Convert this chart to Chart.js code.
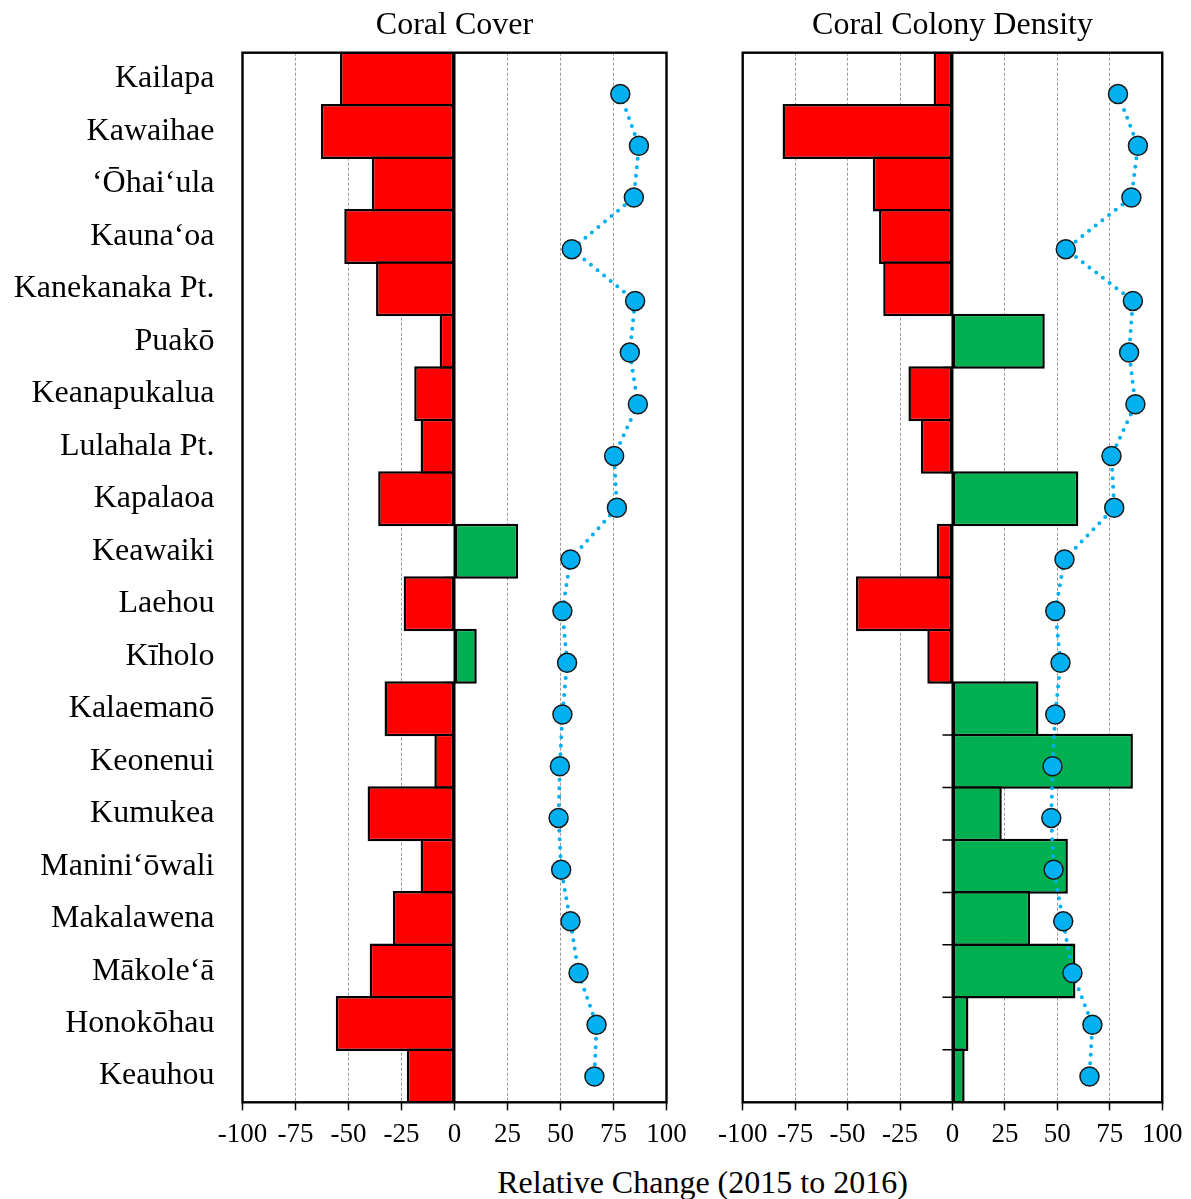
<!DOCTYPE html>
<html>
<head>
<meta charset="utf-8">
<script src="https://cdn.jsdelivr.net/npm/chart.js@4.4.1/dist/chart.umd.min.js"></script>
<style>
  html, body { margin: 0; padding: 0; background: #ffffff; }
  body { width: 1191px; height: 1199px; position: relative; overflow: hidden; }
  #wrapL { position: absolute; left: 0; top: 0; width: 700px; height: 1160px; }
  #wrapR { position: absolute; left: 700px; top: 0; width: 491px; height: 1160px; }
  #xTitle { position: absolute; left: 402.5px; top: 1162px; width: 600px; text-align: center;
            font-family: 'Liberation Serif', 'Times New Roman', serif; font-size: 32px; line-height: 40px; color: #000; }
</style>
</head>
<body>
<div id="wrapL"><canvas id="cL" width="700" height="1160"></canvas></div>
<div id="wrapR"><canvas id="cR" width="491" height="1160"></canvas></div>
<div id="xTitle">Relative Change (2015 to 2016)</div>
<script>
// ---------------- data ----------------
const sites = ["Kailapa", "Kawaihae", "\u2018\u014Chai\u2018ula", "Kauna\u2018oa", "Kanekanaka Pt.", "Puak\u014D",
  "Keanapukalua", "Lulahala Pt.", "Kapalaoa", "Keawaiki", "Laehou", "K\u012Bholo", "Kalaeman\u014D",
  "Keonenui", "Kumukea", "Manini\u2018\u014Dwali", "Makalawena", "M\u0101kole\u2018\u0101", "Honok\u014Dhau", "Keauhou"];

const coralCover = [-54, -63, -39, -52, -37, -7, -19, -16, -36, 30, -24, 10.5, -33, -9.5, -41, -16, -29, -40, -56, -22.5];
const coverDots = [78.2, 87, 84.6, 55.3, 85.2, 82.7, 86.5, 75.3, 76.6, 54.7, 50.9, 53.1, 50.9, 49.7, 49.1, 50.3, 54.7, 58.5, 67, 66];

const colonyDensity = [-9, -81, -38, -35, -33, 44, -21, -15, 60, -7.5, -46, -12, 41, 86, 23.5, 55, 37, 58.6, 7.6, 5.8];
const densityDots = [78.9, 88.4, 85.3, 54, 86, 84.2, 87.2, 75.8, 77.1, 53.4, 49, 51.5, 49, 47.7, 47.1, 48.2, 52.8, 57.2, 66.7, 65.3];

const xTickValues = [-100, -75, -50, -25, 0, 25, 50, 75, 100];
const panelTitles = ["Coral Cover", "Coral Colony Density"];

// ---------------- styling ----------------
const FONT = "'Liberation Serif', 'Times New Roman', serif";
Chart.defaults.font.family = FONT;
Chart.defaults.color = '#000';

const RED = '#FF0000', GREEN = '#00B050', BLUE = '#00B0F0';

const frameAndZero = {
  id: 'frameAndZero',
  beforeDatasetsDraw(chart) {
    const { ctx, chartArea, scales } = chart;
    const x0 = scales.x.getPixelForValue(0);
    ctx.save();
    ctx.strokeStyle = '#000';
    ctx.lineWidth = 2;
    ctx.beginPath();
    ctx.moveTo(x0, chartArea.top);
    ctx.lineTo(x0, chartArea.bottom);
    ctx.stroke();
    // tick marks of the vertical axis (at category boundaries), pointing left
    ctx.lineWidth = 1.5;
    ctx.beginPath();
    const ys = scales.y;
    for (let i = 1; i < sites.length; i++) {
      const yb = (ys.getPixelForValue(i - 1) + ys.getPixelForValue(i)) / 2;
      ctx.moveTo(x0 - 10, yb);
      ctx.lineTo(x0, yb);
    }
    ctx.stroke();
    ctx.restore();
  },
  afterDraw(chart) {
    const { ctx, chartArea } = chart;
    ctx.save();
    ctx.strokeStyle = '#000';
    ctx.lineWidth = 2.4;
    ctx.strokeRect(chartArea.left, chartArea.top, chartArea.right - chartArea.left, chartArea.bottom - chartArea.top);
    ctx.restore();
  }
};

function makeChart(canvasId, title, barValues, dotValues, showLabels, yWidth, padRight) {
  return new Chart(document.getElementById(canvasId), {
    type: 'bar',
    data: {
      labels: sites,
      datasets: [
        {
          type: 'scatter',
          data: dotValues.map((v, i) => ({ x: v, y: i })),
          xAxisID: 'x',
          yAxisID: 'y2',
          showLine: true,
          borderColor: BLUE,
          borderWidth: 4,
          borderDash: [0, 8.5],
          borderCapStyle: 'round',
          pointRadius: 9.5,
          pointBackgroundColor: BLUE,
          pointBorderColor: '#1a1a1a',
          pointBorderWidth: 1.5,
          order: 0
        },
        {
          type: 'bar',
          data: barValues,
          xAxisID: 'x',
          yAxisID: 'y',
          grouped: false,
          backgroundColor: ctx => (ctx.raw < 0 ? RED : GREEN),
          borderColor: '#000',
          borderWidth: 2.5,
          borderSkipped: false,
          categoryPercentage: 1,
          barPercentage: 1.048,
          order: 1
        }
      ]
    },
    options: {
      indexAxis: 'y',
      responsive: false,
      animation: false,
      events: [],
      layout: { padding: { left: 0, right: padRight, top: 0, bottom: 0 } },
      plugins: {
        legend: { display: false },
        tooltip: { enabled: false },
        title: {
          display: true,
          text: title,
          fullSize: false,
          color: '#000',
          font: { family: FONT, size: 32, weight: 'normal', lineHeight: 1.2 },
          padding: { top: 6, bottom: 8.3 }
        }
      },
      scales: {
        x: {
          type: 'linear',
          min: -100,
          max: 100,
          afterBuildTicks: s => { s.ticks = xTickValues.map(v => ({ value: v })); },
          afterFit: s => { s.height = 57.7; },
          ticks: {
            font: { family: FONT, size: 27 },
            color: '#000',
            padding: 8.5,
            maxRotation: 0,
            autoSkip: false,
            callback: v => String(v)
          },
          grid: {
            display: true,
            drawOnChartArea: true,
            drawTicks: true,
            tickLength: 8,
            tickWidth: 1.5,
            tickColor: '#000',
            tickBorderDash: [],
            lineWidth: 1,
            color: ctx => (ctx.tick && (ctx.tick.value === 0 || Math.abs(ctx.tick.value) === 100)) ? 'rgba(0,0,0,0)' : '#9a9a9a'
          },
          border: { display: false, dash: [3, 2] }
        },
        y: {
          type: 'category',
          afterFit: s => { s.width = yWidth; },
          grid: { display: false, drawTicks: false },
          border: { display: false },
          ticks: {
            display: showLabels,
            font: { family: FONT, size: 32 },
            color: '#000',
            padding: 28
          }
        },
        y2: {
          type: 'linear',
          display: false,
          offset: false,
          reverse: true,
          min: -0.8,
          max: 19.5,
          grid: { offset: false }
        }
      }
    },
    plugins: [frameAndZero]
  });
}

makeChart('cL', panelTitles[0], coralCover, coverDots, true, 242.5, 33.5);
makeChart('cR', panelTitles[1], colonyDensity, densityDots, false, 42.7, 27.3);
</script>
</body>
</html>
